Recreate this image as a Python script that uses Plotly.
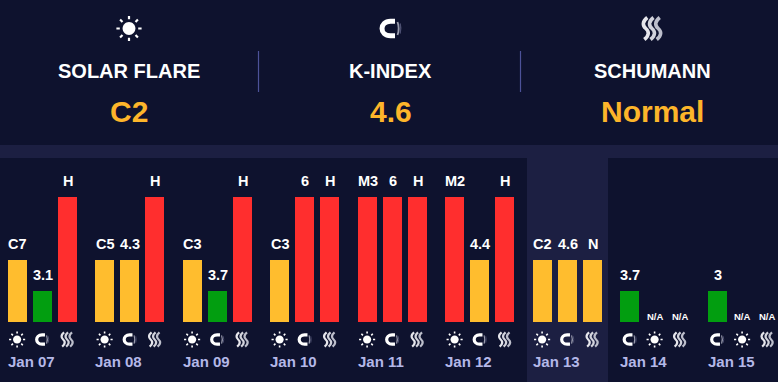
import math
import plotly.graph_objects as go

W, H = 778, 382

days = ["Jan 07", "Jan 08", "Jan 09", "Jan 10", "Jan 11", "Jan 12", "Jan 13", "Jan 14", "Jan 15"]
flare_labels = ["C7", "C5", "C3", "C3", "M3", "M2", "C2", "N/A", "N/A"]
flare_levels = [50, 50, 50, 50, 100, 100, 50, 0, 0]
k_labels = ["3.1", "4.3", "3.7", "6", "6", "4.4", "4.6", "3.7", "3"]
k_levels = [25, 50, 25, 100, 100, 50, 50, 25, 25]
schumann_labels = ["H", "H", "H", "H", "H", "H", "N", "N/A", "N/A"]
schumann_levels = [100, 100, 100, 100, 100, 100, 50, 0, 0]

header_titles = ["SOLAR FLARE", "K-INDEX", "SCHUMANN"]
header_values = ["C2", "4.6", "Normal"]
header_icons = ["sun", "magnet", "waves"]

BG = "#0e122e"
PANEL = "#1c1f42"
AMBER = "#ffbd2e"
RED = "#ff2e2e"
GREEN = "#029e10"
GOLD = "#fdb52a"
DATE = "#b4b8e8"
DIV = "#4d5299"
FONT = "Liberation Sans"
level_colors = {0: AMBER, 25: GREEN, 50: AMBER, 100: RED}

DAY_PX = 87.5
SLOT = 25 / DAY_PX
BAR = 19 / DAY_PX
X0_PX = 42.1
BASE_PX = 322.2
UNIT_PX = 1.25
TODAY = 6


def py(px):
    return 1 - px / H


def slots(flare):
    """Magnetic reading moves first when a day has no flare reading."""
    return (0, -1, 1) if flare == "N/A" else (-1, 0, 1)


flare_x, k_x, sch_x = [], [], []
for i, lab in enumerate(flare_labels):
    a, b, c = slots(lab)
    flare_x.append(i + a * SLOT)
    k_x.append(i + b * SLOT)
    sch_x.append(i + c * SLOT)

annotations = []
fig = go.Figure()
for name, xs, vals, labs in [
    ("Solar flare", flare_x, flare_levels, flare_labels),
    ("K-index", k_x, k_levels, k_labels),
    ("Schumann", sch_x, schumann_levels, schumann_labels),
]:
    fig.add_bar(
        name=name, x=xs, y=vals, width=BAR, cliponaxis=False,
        marker=dict(color=[level_colors[v] for v in vals], line=dict(width=0)),
        hoverinfo="skip",
    )
    for x, v, t in zip(xs, vals, labs):
        na = t == "N/A"
        annotations.append(dict(
            text=f"<b>{t}</b>", xref="x", yref="y", x=x, y=v, showarrow=False,
            xanchor="center", yanchor="middle", yshift=6 if na else 16, xshift=0.5,
            font=dict(family=FONT, color="white", size=9.5 if na else 14.5),
        ))


def sun_paths(s):
    r = 6.4 * s
    q = 0.5523 * r
    disc = (f"M {-r} 0 C {-r} {q} {-q} {r} 0 {r} C {q} {r} {r} {q} {r} 0 "
            f"C {r} {-q} {q} {-r} 0 {-r} C {-q} {-r} {-r} {-q} {-r} 0 Z")
    rays = ""
    for k in range(8):
        a = k * math.pi / 4
        r0, r1 = 9.2 * s, 12.6 * s
        rays += (f"M {r0*math.cos(a):.2f} {r0*math.sin(a):.2f} "
                 f"L {r1*math.cos(a):.2f} {r1*math.sin(a):.2f} ")
    return [dict(path=disc, fillcolor="white", line=dict(width=0)),
            dict(path=rays, line=dict(color="white", width=max(1.6, 2.2 * s)))]


def magnet_paths(s):
    c = (f"M {4.5*s} {-7.3*s} L {0*s} {-7.3*s} C {-11.3*s} {-7.3*s} {-11.3*s} {7.3*s} {0*s} {7.3*s} L {4.5*s} {7.3*s}")
    a1 = f"M {7*s} {-6.5*s} Q {9.4*s} 0 {7*s} {6.5*s}"
    a2 = f"M {9.6*s} {-5*s} Q {11*s} 0 {9.6*s} {5*s}"
    return [dict(path=c, line=dict(color="white", width=5 * s)),
            dict(path=a1, line=dict(color="#9a9cae", width=1.8 * s)),
            dict(path=a2, line=dict(color="#4d5072", width=1.4 * s))]


def waves_paths(s):
    out = []
    for dx, col in [(-6.2, "#e6e6ec"), (0, "#d2d3dc"), (6.2, "#bcbecb")]:
        x = dx * s
        p = (f"M {x+1.5*s} {11*s} C {x-3.5*s} {7*s} {x-3.5*s} {3*s} {x} 0 "
             f"C {x+3.5*s} {-3*s} {x+3.5*s} {-7*s} {x-1.5*s} {-11*s}")
        out.append(dict(path=p, line=dict(color=col, width=3.6 * s)))
    return out


icon_makers = {"sun": sun_paths, "magnet": magnet_paths, "waves": waves_paths}
TODAY_L, TODAY_R = (527 - X0_PX) / DAY_PX, (608 - X0_PX) / DAY_PX
shapes = [
    dict(type="rect", xref="paper", yref="paper", x0=0, x1=1, y0=py(158), y1=py(145),
         fillcolor=PANEL, line=dict(width=0), layer="below"),
    dict(type="rect", xref="x", yref="paper", x0=TODAY_L, x1=TODAY_R, y0=0, y1=py(158),
         fillcolor=PANEL, line=dict(width=0), layer="below"),
]
for px in (258.5, 520.5):
    shapes.append(dict(type="line", xref="paper", yref="paper", x0=px / W, x1=px / W,
                       y0=py(51), y1=py(92), line=dict(color=DIV, width=1.2), layer="below"))


def add_icon(kind, s, xref, x, y_px):
    for p in icon_makers[kind](s):
        shapes.append(dict(type="path", xref=xref, yref="paper", xsizemode="pixel", ysizemode="pixel",
                           xanchor=x, yanchor=py(y_px), layer="above", **p))


for i, (t, v, ic) in enumerate(zip(header_titles, header_values, header_icons)):
    cx = (129 + 261.5 * i) / W
    add_icon(ic, 1.0, "paper", cx, 28.5)
    annotations.append(dict(text=f"<b>{t}</b>", xref="paper", yref="paper", x=cx, y=py(71.5), showarrow=False,
                            xanchor="center", yanchor="middle", font=dict(family=FONT, size=20, color="white")))
    annotations.append(dict(text=f"<b>{v}</b>", xref="paper", yref="paper", x=cx, y=py(112), showarrow=False,
                            xanchor="center", yanchor="middle", font=dict(family=FONT, size=30, color=GOLD)))

for i, d in enumerate(days):
    for kind, xs in (("sun", flare_x), ("magnet", k_x), ("waves", sch_x)):
        add_icon(kind, 0.64, "x", xs[i], 339.5)
    annotations.append(dict(text=f"<b>{d}</b>", xref="x", yref="paper", x=i - SLOT - BAR / 2, y=py(361.5),
                            showarrow=False, xanchor="left", yanchor="middle", borderpad=0, xshift=-1,
                            font=dict(family=FONT, size=15, color=DATE)))

fig.update_layout(
    width=W, height=H, margin=dict(l=0, r=0, t=0, b=0),
    paper_bgcolor=BG, plot_bgcolor="rgba(0,0,0,0)",
    barmode="overlay", showlegend=False, bargap=0,
    shapes=shapes, annotations=annotations,
    xaxis=dict(range=[-X0_PX / DAY_PX, (W - X0_PX) / DAY_PX], visible=False, fixedrange=True),
    yaxis=dict(range=[-(H - BASE_PX) / UNIT_PX, BASE_PX / UNIT_PX], visible=False, fixedrange=True),
)
fig.write_html("out.html", config={"displayModeBar": False},
               default_width="778px", default_height="382px",
               post_script="document.body.style.margin='0';document.body.style.background='#0e122e';")
